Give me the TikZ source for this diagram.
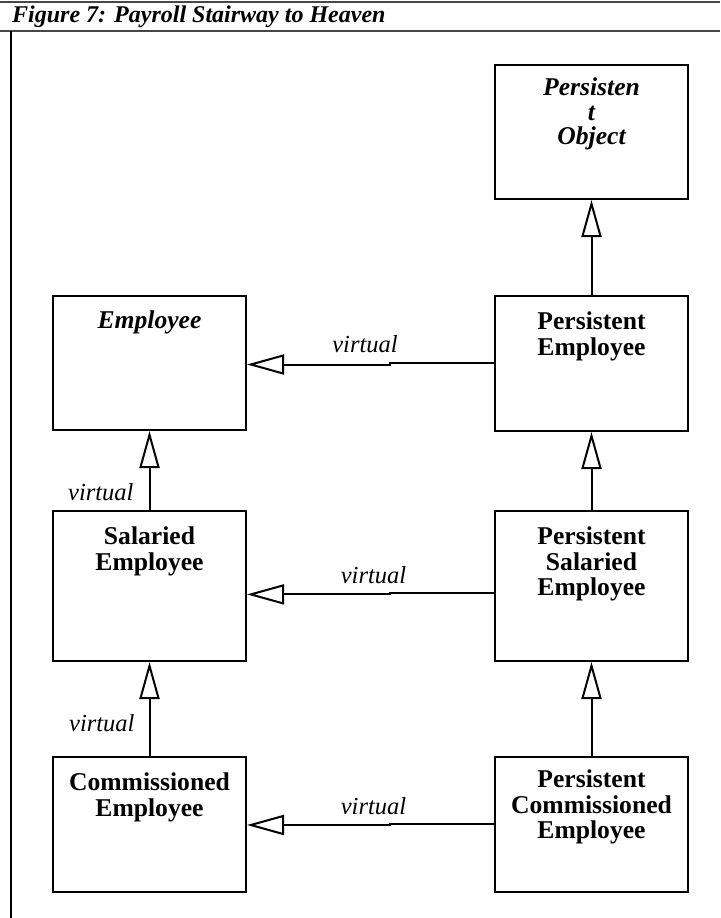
\documentclass[tikz,border=0pt]{standalone}
\usepackage{fontspec}
\setmainfont{Liberation Serif}
\usetikzlibrary{arrows.meta}

\tikzset{
  cls/.style={draw, line width=2pt, minimum width=193pt, inner sep=0pt},
  clstext/.style={anchor=north, align=center, inner sep=0pt,
                  font=\fontsize{25.6}{25.5}\selectfont\bfseries},
  abstract/.style={font=\fontsize{25.6}{24.5}\selectfont\bfseries\itshape},
  inh/.style={line width=2pt,
              -{Triangle[open, length=37pt, width=20pt, line width=2pt]}},
  vlabel/.style={inner sep=0pt, font=\fontsize{24.5}{25}\selectfont\itshape},
  rulebar/.style={draw=black!72, line width=2.2pt},
  framebar/.style={draw=black, line width=1.2pt}
}

\begin{document}
\begin{tikzpicture}[x=1pt, y=-1pt]
  \useasboundingbox (0,0) rectangle (720,918);

  % title strip and frame
  \coordinate (r1w) at (0,2);   \coordinate (r1e) at (720,2);
  \coordinate (r2w) at (0,31);  \coordinate (r2e) at (720,31);
  \coordinate (ftop) at (11,31); \coordinate (fbot) at (11,918);
  \draw[rulebar] (r1w) -- (r1e);
  \draw[rulebar, line width=2pt] (r2w) -- (r2e);
  \draw[framebar] (ftop) -- (fbot);
  \node[anchor=base west, inner sep=0pt,
        font=\fontsize{24}{24}\selectfont\bfseries\itshape] (title) at (12,23)
        {Figure 7: Payroll Stairway to Heaven};

  % class boxes
  \node[cls, minimum height=134pt] (po)   at (591.5,132)   {};
  \node[cls, minimum height=134pt] (emp)  at (149.5,363)   {};
  \node[cls, minimum height=135pt] (pemp) at (591.5,363.5) {};
  \node[cls, minimum height=150pt] (sal)  at (149.5,586)   {};
  \node[cls, minimum height=150pt] (psal) at (591.5,586)   {};
  \node[cls, minimum height=135pt] (com)  at (149.5,824.5) {};
  \node[cls, minimum height=135pt] (pcom) at (591.5,824.5) {};

  % class names
  \node[clstext, abstract] (tpo)   at ([yshift=-14pt]po.north)   {Persisten\\t\\Object};
  \node[clstext, abstract] (temp)  at ([yshift=-16pt]emp.north)  {Employee};
  \node[clstext] (tpemp) at ([yshift=-17pt]pemp.north) {Persistent\\Employee};
  \node[clstext] (tsal)  at ([yshift=-17pt]sal.north)  {Salaried\\Employee};
  \node[clstext] (tpsal) at ([yshift=-17pt]psal.north) {Persistent\\Salaried\\Employee};
  \node[clstext] (tcom)  at ([yshift=-17pt]com.north)  {Commissioned\\Employee};
  \node[clstext] (tpcom) at ([yshift=-14pt]pcom.north) {Persistent\\Commissioned\\Employee};

  % vertical inheritance
  \draw[inh] (pemp.north) -- (po.south);
  \draw[inh] (psal.north) -- (pemp.south);
  \draw[inh] (pcom.north) -- (psal.south);
  \draw[inh] (sal.north) --
    node[vlabel, pos=0.123, anchor=base east, xshift=-15pt] (vsal) {virtual}
    (emp.south);
  \draw[inh] (com.north) --
    node[vlabel, pos=0.26, anchor=base east, xshift=-14pt] (vcom) {virtual}
    (sal.south);

  % horizontal (virtual) inheritance
  \draw[inh] (pemp.west |- 0,362.7) -- (390,362.7) -- (390,364.5) -- (emp.east |- 0,364.5);
  \draw[inh] (psal.west |- 0,593) -- (390,593) -- (390,594.4) -- (sal.east |- 0,594.4);
  \draw[inh] (pcom.west |- 0,823.6) -- (390,823.6) -- (390,825) -- (com.east |- 0,825);
  \node[vlabel, anchor=base] (vpemp) at (365,352) {virtual};
  \node[vlabel, anchor=base] (vpsal) at (373.5,583) {virtual};
  \node[vlabel, anchor=base] (vpcom) at (373.5,814) {virtual};
\end{tikzpicture}
\end{document}
